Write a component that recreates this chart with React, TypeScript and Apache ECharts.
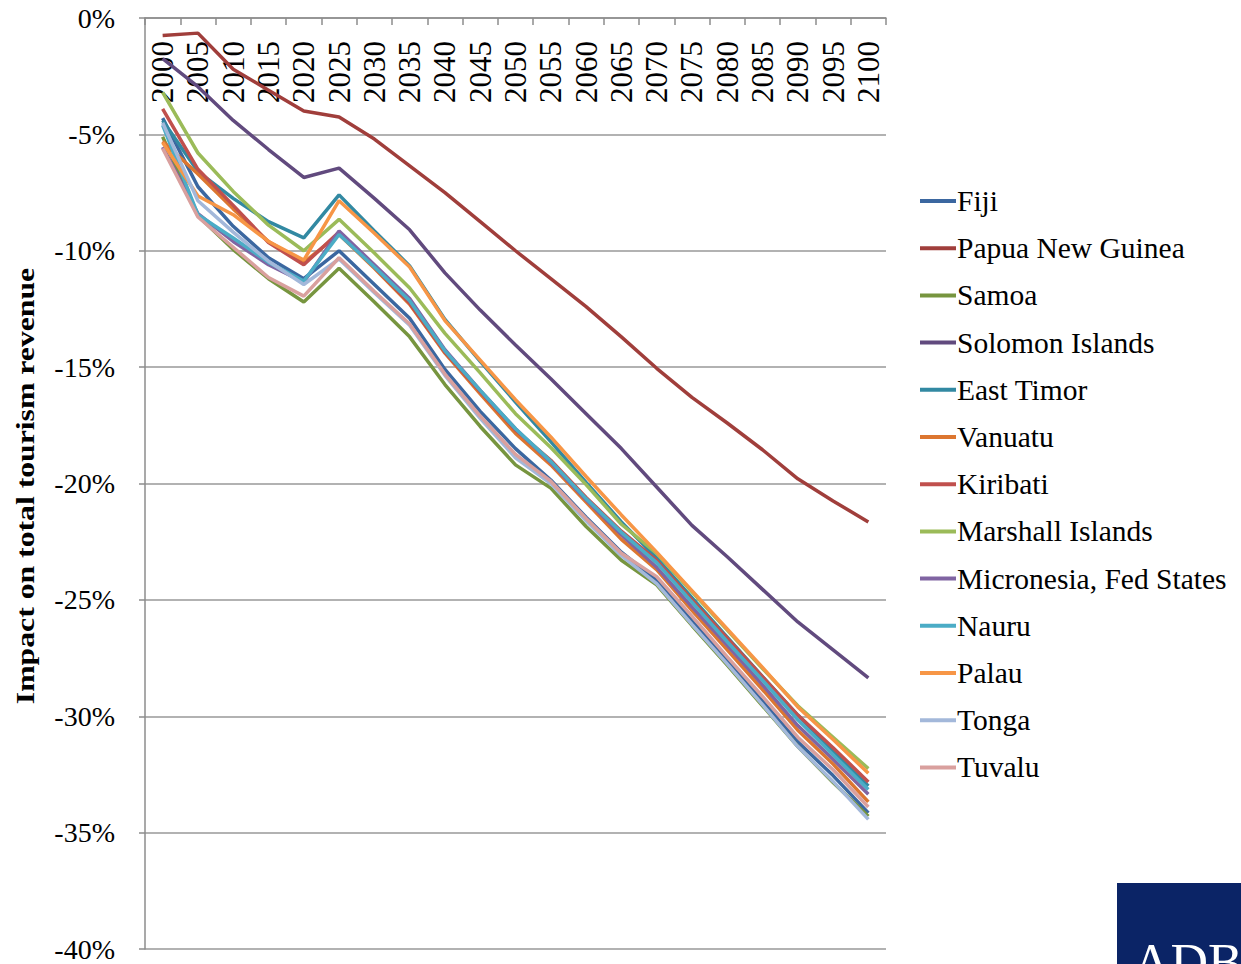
import React, { useEffect, useRef } from "react";
import * as echarts from "echarts";

const years = ["2000","2005","2010","2015","2020","2025","2030","2035","2040","2045","2050","2055","2060","2065","2070","2075","2080","2085","2090","2095","2100"];

const fiji = [-4.3, -7.25, -8.95, -10.3, -11.2, -10.0, -11.45, -12.9, -15.1, -16.9, -18.5, -19.85, -21.45, -22.95, -24.15, -25.9, -27.6, -29.35, -31.1, -32.55, -34.15];
const papuaNewGuinea = [-0.75, -0.65, -2.2, -3.1, -4.0, -4.25, -5.2, -6.35, -7.5, -8.75, -10.0, -11.2, -12.4, -13.7, -15.05, -16.3, -17.4, -18.55, -19.8, -20.75, -21.65];
const samoa = [-5.1, -8.5, -9.95, -11.2, -12.2, -10.75, -12.2, -13.7, -15.75, -17.55, -19.2, -20.2, -21.85, -23.3, -24.35, -26.1, -27.8, -29.55, -31.3, -32.85, -34.3];
const solomonIslands = [-1.75, -2.95, -4.4, -5.65, -6.85, -6.45, -7.75, -9.1, -10.95, -12.55, -14.05, -15.5, -17.0, -18.5, -20.15, -21.8, -23.15, -24.55, -25.95, -27.15, -28.35];
const eastTimor = [-4.4, -6.6, -7.75, -8.75, -9.45, -7.6, -9.15, -10.65, -12.95, -14.75, -16.5, -18.2, -19.95, -21.65, -23.2, -24.9, -26.6, -28.3, -29.95, -31.5, -33.0];
const vanuatu = [-5.3, -6.7, -8.2, -9.6, -10.5, -9.3, -10.75, -12.3, -14.4, -16.15, -17.85, -19.2, -20.8, -22.4, -23.7, -25.45, -27.15, -28.85, -30.6, -32.05, -33.68];
const kiribati = [-3.9, -6.5, -8.05, -9.65, -10.6, -9.2, -10.7, -12.25, -14.35, -16.05, -17.7, -19.0, -20.6, -22.05, -23.3, -25.0, -26.65, -28.3, -29.95, -31.35, -32.82];
const marshallIslands = [-3.2, -5.8, -7.45, -8.9, -10.0, -8.65, -10.1, -11.6, -13.55, -15.25, -17.0, -18.45, -20.05, -21.75, -23.0, -24.65, -26.3, -27.95, -29.55, -30.9, -32.25];
const micronesia = [-5.55, -8.4, -9.6, -10.6, -11.35, -9.15, -10.6, -12.05, -14.25, -16.0, -17.65, -19.1, -20.7, -22.2, -23.6, -25.3, -26.95, -28.65, -30.4, -31.85, -33.35];
const nauru = [-4.6, -8.45, -9.45, -10.5, -11.3, -9.3, -10.7, -12.15, -14.3, -16.0, -17.65, -19.05, -20.65, -22.1, -23.4, -25.1, -26.8, -28.45, -30.15, -31.65, -33.15];
const palau = [-5.35, -7.65, -8.45, -9.6, -10.4, -7.85, -9.25, -10.7, -13.0, -14.7, -16.4, -18.0, -19.7, -21.35, -22.95, -24.6, -26.25, -27.9, -29.6, -31.0, -32.45];
const tonga = [-4.5, -7.85, -9.2, -10.45, -11.45, -10.35, -11.8, -13.2, -15.35, -17.2, -18.9, -20.0, -21.6, -23.1, -24.3, -26.05, -27.75, -29.5, -31.3, -32.8, -34.43];
const tuvalu = [-5.6, -8.55, -9.85, -11.15, -11.95, -10.3, -11.75, -13.15, -15.3, -17.1, -18.75, -19.9, -21.5, -23.0, -24.0, -25.7, -27.45, -29.15, -30.9, -32.3, -33.9];

const seriesNames = ["Fiji", "Papua New Guinea", "Samoa", "Solomon Islands", "East Timor", "Vanuatu", "Kiribati", "Marshall Islands", "Micronesia, Fed States", "Nauru", "Palau", "Tonga", "Tuvalu"];
const seriesData = [fiji, papuaNewGuinea, samoa, solomonIslands, eastTimor, vanuatu, kiribati, marshallIslands, micronesia, nauru, palau, tonga, tuvalu];
const seriesColors = ["#3B67A0", "#A03E3B", "#77953F", "#614A7E", "#3289A2", "#DC7630", "#C0504D", "#9BBB59", "#8064A2", "#4BACC6", "#F79646", "#A3B8DA", "#D9A09E"];

const yTicks = { min: -40, max: 0, interval: 5 };
const yTitle = "Impact on total tourism revenue";
const FONT = "Liberation Serif";

export default function App() {
  const ref = useRef<HTMLDivElement>(null);
  useEffect(() => {
    if (!ref.current) return;
    const chart = echarts.init(ref.current, null, { renderer: "svg" });
    chart.setOption({
      animation: false,
      backgroundColor: "#ffffff",
      textStyle: { fontFamily: FONT },
      grid: { left: 145, top: 18, right: 355, bottom: 15, containLabel: false },
      legend: {
        orient: "vertical",
        left: 915,
        top: 181,
        itemWidth: 36,
        itemHeight: 4,
        itemGap: 17.2,
        icon: "rect",
        data: seriesNames,
        textStyle: { fontFamily: FONT, fontSize: 29.5, color: "#000", padding: [0, 0, 0, -4] },
      },
      xAxis: {
        type: "category",
        position: "top",
        data: years,
        boundaryGap: true,
        axisLine: { show: true, lineStyle: { color: "#8c8c8c", width: 1.5 } },
        axisTick: { show: true, inside: true, length: 7, interval: 0, lineStyle: { color: "#8c8c8c", width: 1.5 } },
        axisLabel: {
          inside: true,
          rotate: 90,
          interval: 0,
          margin: 23,
          fontFamily: FONT,
          fontSize: 31,
          color: "#000",
        },
        splitLine: { show: false },
      },
      yAxis: {
        type: "value",
        min: yTicks.min,
        max: yTicks.max,
        interval: yTicks.interval,
        axisLine: { show: true, lineStyle: { color: "#8c8c8c", width: 1.5 } },
        axisTick: { show: true, length: 6, lineStyle: { color: "#8c8c8c", width: 1.5 } },
        axisLabel: {
          margin: 30,
          fontFamily: FONT,
          fontSize: 28,
          color: "#000",
          formatter: (v: number) => `${v}%`,
        },
        splitLine: { show: true, lineStyle: { color: "#999999", width: 1.5 } },
      },
      series: seriesNames.map((name, i) => ({
        name,
        type: "line",
        data: seriesData[i],
        showSymbol: false,
        symbol: "none",
        lineStyle: { width: 3.5, color: seriesColors[i] },
        itemStyle: { color: seriesColors[i] },
      })),
      graphic: [
        {
          type: "text",
          x: 25,
          y: 486,
          rotation: Math.PI / 2,
          scaleX: 1.22,
          style: {
            text: yTitle,
            fill: "#000",
            font: `bold 26px ${FONT}`,
            textAlign: "center",
            textVerticalAlign: "middle",
          },
        },
        { type: "rect", left: 1117, top: 883, shape: { width: 124, height: 81 }, style: { fill: "#0B2466" } },
        { type: "text", x: 1133, y: 936, style: { text: "ADB", fill: "#ffffff", font: `52px ${FONT}` } },
      ],
    });
    return () => chart.dispose();
  }, []);
  return <div ref={ref} style={{ width: 1241, height: 964, position: "absolute", left: 0, top: 0 }} />;
}
